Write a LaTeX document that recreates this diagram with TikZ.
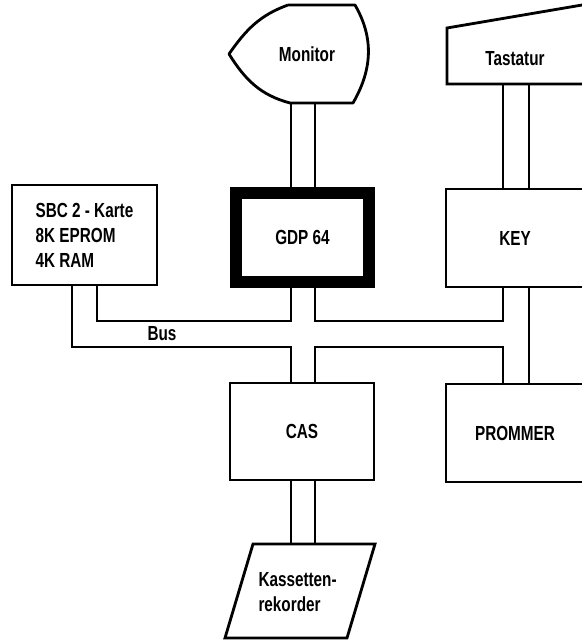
\documentclass[tikz,border=0pt]{standalone}
\usepackage{fontspec}
\setsansfont[FakeStretch=0.75]{Liberation Sans}
\usepackage{tikz}

\begin{document}
\begin{tikzpicture}[
  every node/.style={font=\sffamily\bfseries\fontsize{14.5}{17.8}\selectfont},
  box/.style={draw,line width=2pt,minimum width=3.6cm,minimum height=2.45cm},
  link/.style={line width=1.3pt}]
\useasboundingbox (0,0) rectangle (14.55,16.05);

% lanes of the bus
\coordinate (l1) at (1.8,0);
\coordinate (l2) at (2.425,0);
\coordinate (l3) at (7.275,0);
\coordinate (l4) at (7.875,0);
\coordinate (l5) at (12.575,0);
\coordinate (l6) at (13.225,0);
\coordinate (busU) at (0,8.025);
\coordinate (busL) at (0,7.375);

\node[box,minimum width=3.625cm,minimum height=2.5cm,align=left] (sbc) at (2.1125,10.175) {SBC 2 - Karte\\8K EPROM\\4K RAM};
\node[box,line width=0.3cm,minimum width=3.325cm,minimum height=2.225cm] (gdp) at (7.5625,10.1125) {GDP 64};
\node[box,minimum width=3.45cm] (key) at (12.875,10.1) {KEY};
\node[box,minimum width=3.45cm] (prommer) at (12.875,5.225) {PROMMER};
\node[box,minimum height=2.425cm] (cas) at (7.55,5.2625) {CAS};

% Monitor
\coordinate (monTL) at (7.2,15.925);
\coordinate (monTR) at (8.875,15.925);
\coordinate (monBR) at (8.825,13.475);
\coordinate (monBL) at (7.25,13.475);
\coordinate (monP) at (5.725,14.7);
\draw[line width=2pt,line join=round] (monTL) -- (monTR) to[out=-60,in=60] (monBR) -- (monBL) to[out=165,in=-58] (monP) to[out=55,in=200] (monTL);
\node (mon) at (7.675,14.7) {Monitor};

% Tastatur
\coordinate (tastB) at (12.875,13.95);
\draw[line width=2pt] (11.175,13.95) -- (11.175,15.35) -- (14.7,15.95) -- (14.7,13.95) -- cycle;
\node (tast) at (12.875,14.575) {Tastatur};

% Kassettenrekorder
\coordinate (kassT) at (7.5,2.45);
\draw[line width=2pt] (6.325,2.45) -- (9.375,2.45) -- (8.675,0.1) -- (5.625,0.1) -- cycle;
\node[align=left] (kass) at (7.44,1.2375) {Kassetten-\\rekorder};

\draw[link] (monBL -| l3) -- (gdp.north -| l3);
\draw[link] (monBL -| l4) -- (gdp.north -| l4);
\draw[link] (tastB -| l5) -- (key.north -| l5);
\draw[link] (tastB -| l6) -- (key.north -| l6);
\draw[link] (cas.south -| l3) -- (kassT -| l3);
\draw[link] (cas.south -| l4) -- (kassT -| l4);

% Bus
\draw[link] (sbc.south -| l2) -- (busU -| l2) -- (busU -| l3) -- (gdp.south -| l3);
\draw[link] (gdp.south -| l4) -- (busU -| l4) -- (busU -| l5) -- (key.south -| l5);
\draw[link] (sbc.south -| l1) -- (busL -| l1) -- (busL -| l3) -- (cas.north -| l3);
\draw[link] (cas.north -| l4) -- (busL -| l4) -- (busL -| l5) -- (prommer.north -| l5);
\draw[link] (key.south -| l6) -- (prommer.north -| l6);
\node (bus) at (4.05,7.7) {Bus};
\end{tikzpicture}
\end{document}
